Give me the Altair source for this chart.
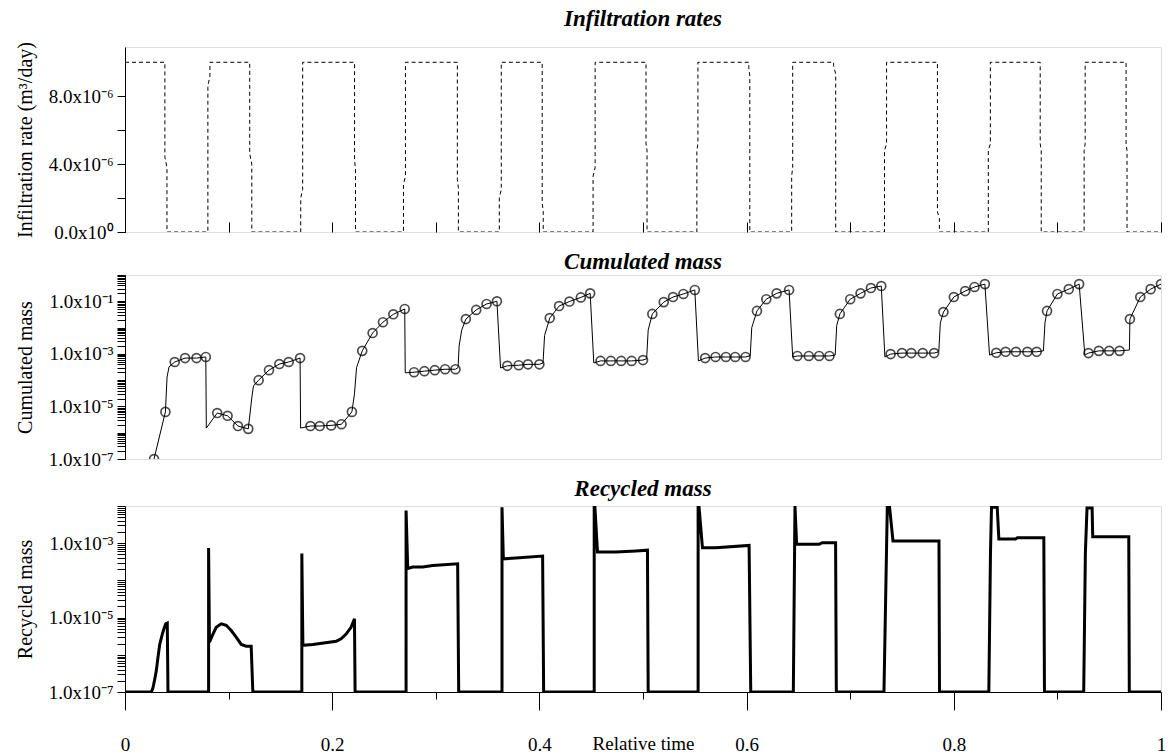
import altair as alt
import pandas as pd

SERIF = "Liberation Serif, Times New Roman, serif"

# ---------------- Infiltration rate: on/off ramps ----------------
INF_HIGH = 1.0e-5
ramp_start = [0.0385, 0.0800, 0.1204, 0.1696, 0.2216, 0.2688, 0.3208, 0.3613, 0.4027, 0.4518, 0.5029,
              0.5520, 0.6021, 0.6435, 0.6840, 0.7331, 0.7842, 0.8333, 0.8834, 0.9258, 0.9663]
ramp_end = [0.0405, 0.0820, 0.1224, 0.1715, 0.2225, 0.2707, 0.3218, 0.3632, 0.4037, 0.4538, 0.5039,
            0.5530, 0.6031, 0.6445, 0.6860, 0.7351, 0.7861, 0.8353, 0.8844, 0.9268, 0.9672]
kink_a = [4.4e-6, 8.6e-6, 4.6e-6, 2.0e-6, 4.2e-6, 2.8e-6, 3.1e-6, 2.0e-6, 1.7e-6, 3.3e-6, 5.2e-6,
          4.8e-6, 9.7e-6, 3.3e-6, 9.8e-6, 4.8e-6, 1.2e-6, 4.8e-6, 5.2e-6, 4.8e-6, 5.2e-6]
kink_b = [3.8e-6, 9.2e-6, 4.0e-6, 2.5e-6, 3.7e-6, 3.3e-6, 2.6e-6, 2.5e-6, 1.2e-6, 3.8e-6, 4.8e-6,
          5.2e-6, 9.2e-6, 3.8e-6, 9.3e-6, 5.2e-6, 0.8e-6, 5.2e-6, 4.8e-6, 5.2e-6, 4.8e-6]

inf_t, inf_v = [0.0], [INF_HIGH]
level = INF_HIGH
for t0, t1, ka, kb in zip(ramp_start, ramp_end, kink_a, kink_b):
    nxt = 0.0 if level > 0 else INF_HIGH
    inf_t += [t0, t0, t1, t1]
    inf_v += [level, ka, kb, nxt]
    level = nxt
inf_t.append(1.0)
inf_v.append(level)
inf_df = pd.DataFrame({"t": inf_t, "v": inf_v, "i": range(len(inf_t))})

# ---------------- Cumulated mass (marker = 1 where a symbol is drawn) ----------------
cum_t = [0.028, 0.039, 0.0406, 0.0425, 0.048, 0.058, 0.069, 0.078, 0.0785, 0.089, 0.099, 0.109, 0.119,
         0.1225, 0.124, 0.129, 0.139, 0.149, 0.158, 0.169, 0.1695, 0.179, 0.188, 0.199, 0.209, 0.219,
         0.2215, 0.2235, 0.229, 0.239, 0.249, 0.259, 0.270, 0.2705, 0.279, 0.289, 0.299, 0.309, 0.319,
         0.3215, 0.3225, 0.325, 0.329, 0.339, 0.349, 0.359, 0.3625, 0.369, 0.380, 0.389, 0.400,
         0.4035, 0.405, 0.410, 0.419, 0.429, 0.440, 0.449, 0.4525, 0.459, 0.469, 0.479, 0.489, 0.500,
         0.5035, 0.505, 0.509, 0.520, 0.529, 0.539, 0.550, 0.5535, 0.560, 0.570, 0.580, 0.589, 0.599,
         0.6035, 0.605, 0.610, 0.619, 0.629, 0.641, 0.6445, 0.649, 0.660, 0.670, 0.680,
         0.6855, 0.687, 0.690, 0.700, 0.710, 0.720, 0.730, 0.7335, 0.739, 0.750, 0.759, 0.770, 0.781,
         0.7855, 0.787, 0.790, 0.800, 0.811, 0.820, 0.830, 0.8345, 0.841, 0.850, 0.860, 0.871, 0.880,
         0.8865, 0.888, 0.890, 0.900, 0.911, 0.921, 0.9265, 0.930, 0.940, 0.950, 0.960,
         0.9695, 0.970, 0.980, 0.990, 1.000]
cum_v = [1.0e-7, 6.2e-6, 1.3e-4, 3.2e-4, 4.9e-4, 6.9e-4, 6.9e-4, 7.6e-4, 1.5e-6, 5.6e-6, 4.4e-6, 1.8e-6, 1.4e-6,
         2.3e-5, 6.0e-5, 1.0e-4, 2.4e-4, 4.1e-4, 4.9e-4, 6.9e-4, 1.5e-6, 1.8e-6, 1.8e-6, 1.9e-6, 2.1e-6, 6.2e-6,
         3.0e-5, 3.0e-4, 1.3e-3, 6.2e-3, 1.6e-2, 3.2e-2, 5.1e-2, 1.9e-4, 2.0e-4, 2.2e-4, 2.4e-4, 2.6e-4, 2.6e-4,
         3.0e-4, 2.0e-3, 8.0e-3, 2.1e-2, 4.7e-2, 7.9e-2, 1.0e-1, 2.9e-4, 3.5e-4, 3.7e-4, 4.0e-4, 4.0e-4,
         4.5e-4, 5.0e-3, 2.3e-2, 6.6e-2, 9.8e-2, 1.4e-1, 2.0e-1, 4.5e-4, 5.4e-4, 5.4e-4, 5.4e-4, 5.4e-4, 5.8e-4,
         6.5e-4, 8.0e-3, 3.3e-2, 9.3e-2, 1.45e-1, 1.9e-1, 2.7e-1, 5.4e-4, 6.9e-4, 7.6e-4, 7.6e-4, 7.6e-4, 7.6e-4,
         8.5e-4, 1.0e-2, 4.3e-2, 1.2e-1, 2.0e-1, 2.7e-1, 7.6e-4, 8.3e-4, 8.3e-4, 8.3e-4, 8.3e-4,
         9.0e-4, 1.2e-2, 3.3e-2, 1.2e-1, 2.0e-1, 3.2e-1, 3.8e-1, 7.6e-4, 9.8e-4, 1.07e-3, 1.07e-3, 1.07e-3, 1.07e-3,
         1.2e-3, 1.5e-2, 3.9e-2, 1.45e-1, 2.45e-1, 3.5e-1, 4.5e-1, 9.0e-4, 1.1e-3, 1.2e-3, 1.2e-3, 1.2e-3, 1.2e-3,
         1.3e-3, 1.5e-2, 4.3e-2, 1.9e-1, 2.9e-1, 4.5e-1, 9.0e-4, 1.07e-3, 1.3e-3, 1.3e-3, 1.3e-3,
         1.4e-3, 2.1e-2, 1.45e-1, 2.9e-1, 4.5e-1]
cum_mark = [1, 1, 0, 0, 1, 1, 1, 1, 0, 1, 1, 1, 1,
            0, 0, 1, 1, 1, 1, 1, 0, 1, 1, 1, 1, 1,
            0, 0, 1, 1, 1, 1, 1, 0, 1, 1, 1, 1, 1,
            0, 0, 0, 1, 1, 1, 1, 0, 1, 1, 1, 1,
            0, 0, 1, 1, 1, 1, 1, 0, 1, 1, 1, 1, 1,
            0, 0, 1, 1, 1, 1, 1, 0, 1, 1, 1, 1, 1,
            0, 0, 1, 1, 1, 1, 0, 1, 1, 1, 1,
            0, 0, 1, 1, 1, 1, 1, 0, 1, 1, 1, 1, 1,
            0, 0, 1, 1, 1, 1, 1, 0, 1, 1, 1, 1, 1,
            0, 0, 1, 1, 1, 1, 0, 1, 1, 1, 1,
            0, 1, 1, 1, 1]
cum_df = pd.DataFrame({"t": cum_t, "v": cum_v, "m": cum_mark, "i": range(len(cum_t))})

# ---------------- Recycled mass ----------------
rec_t = [0.0, 0.0254, 0.027, 0.0287, 0.0302, 0.0318, 0.0335, 0.036, 0.0376, 0.0393, 0.0408, 0.0415,
         0.0807, 0.0807, 0.0815, 0.0849, 0.088, 0.0929, 0.0977, 0.1025, 0.1073, 0.1122, 0.117, 0.1218, 0.1234,
         0.1707, 0.1707, 0.1717, 0.1813, 0.2038, 0.2086, 0.2134, 0.2182, 0.2215, 0.2221,
         0.2713, 0.2713, 0.2729, 0.2777, 0.2874, 0.297, 0.3211, 0.3221,
         0.3639, 0.3639, 0.3652, 0.3773, 0.4031, 0.4041,
         0.4529, 0.4529, 0.4535, 0.4561, 0.4738, 0.4931, 0.5043, 0.505,
         0.5532, 0.5532, 0.554, 0.5574, 0.5702, 0.6024, 0.604,
         0.6451, 0.6467, 0.6483, 0.6699, 0.6731, 0.6859, 0.6866,
         0.7326, 0.7358, 0.738, 0.7413, 0.7857, 0.7862,
         0.8338, 0.8354, 0.8364, 0.8419, 0.8435, 0.8595, 0.8615, 0.8869, 0.8875,
         0.9254, 0.927, 0.9286, 0.9335, 0.9341, 0.9689, 0.9694, 1.0]
rec_v = [1e-7, 1e-7, 1.3e-7, 2.2e-7, 3.7e-7, 8.4e-7, 1.9e-6, 3.6e-6, 5.0e-6, 6.8e-6, 7.1e-6, 1e-7,
         1e-7, 7.4e-4, 2.2e-6, 3.6e-6, 5.5e-6, 6.8e-6, 6.2e-6, 4.5e-6, 3.0e-6, 1.9e-6, 1.7e-6, 1.7e-6, 1e-7,
         1e-7, 5.3e-4, 1.8e-6, 1.9e-6, 2.3e-6, 2.7e-6, 3.6e-6, 5.5e-6, 9.3e-6, 1e-7,
         1e-7, 7.6e-3, 2.1e-4, 2.3e-4, 2.3e-4, 2.5e-4, 2.8e-4, 1e-7,
         1e-7, 9.3e-3, 3.8e-4, 4.0e-4, 4.5e-4, 1e-7,
         1e-7, 1e-2, 1e-2, 5.8e-4, 5.8e-4, 6.2e-4, 6.5e-4, 1e-7,
         1e-7, 1e-2, 1e-2, 7.5e-4, 7.5e-4, 8.7e-4, 1e-7,
         1e-7, 1e-2, 9.3e-4, 9.3e-4, 1.03e-3, 1.03e-3, 1e-7,
         1e-7, 9.3e-3, 9.3e-3, 1.15e-3, 1.15e-3, 1e-7,
         1e-7, 5.5e-4, 9.3e-3, 9.3e-3, 1.3e-3, 1.3e-3, 1.4e-3, 1.4e-3, 1e-7,
         1e-7, 5.5e-4, 8.9e-3, 8.9e-3, 1.5e-3, 1.5e-3, 1e-7, 1e-7]
rec_df = pd.DataFrame({"t": rec_t, "v": rec_v, "i": range(len(rec_t))})

# ---------------- Axis ticks and labels ----------------
x_ticks = [0.0, 0.1, 0.2, 0.3, 0.4, 0.5, 0.6, 0.7, 0.8, 0.9, 1.0]
inf_ticks = [0.0, 2e-6, 4e-6, 6e-6, 8e-6]
inf_labels = {0.0: "0.0x10\u2070", 4e-6: "4.0x10\u207b\u2076", 8e-6: "8.0x10\u207b\u2076"}
cum_decades = [-7, -6, -5, -4, -3, -2, -1]
cum_labels = {-7: "1.0x10\u207b\u2077", -5: "1.0x10\u207b\u2075", -3: "1.0x10\u207b\u00b3", -1: "1.0x10\u207b\u00b9"}
rec_decades = [-7, -6, -5, -4, -3]
rec_labels = {-7: "1.0x10\u207b\u2077", -5: "1.0x10\u207b\u2075", -3: "1.0x10\u207b\u00b3"}


def log_ticks(decades, top):
    vals = [k * 10.0 ** d for d in decades for k in range(1, 10)]
    return vals + [top]


def lin_label_expr(labels):
    parts = [f"abs(datum.value - {v!r}) < 1e-9 ? '{s}'" for v, s in labels.items()]
    return " : ".join(parts) + " : ''"


def log_label_expr(labels):
    parts = [f"abs(log(datum.value) / LN10 - ({d})) < 0.01 ? '{s}'" for d, s in labels.items()]
    return " : ".join(parts) + " : ''"


W = 1036
x_scale = alt.Scale(domain=[0, 1], nice=False, zero=False)

y_axis_common = dict(
    labelFont=SERIF, labelFontSize=19, labelColor="black", labelPadding=4,
    titleFont=SERIF, titleFontSize=20, titleFontWeight="normal", titleColor="black", titlePadding=13,
    tickColor="black", domainColor="black", tickSize=8, grid=False,
    labelOverlap=False, labelFlush=False,
)


def panel_title(text, offset):
    return alt.TitleParams(text, font=SERIF, fontSize=23, fontStyle="italic", fontWeight="bold",
                           color="black", anchor="middle", offset=offset)


# ---------------- Panel 1: infiltration rates ----------------
top = alt.Chart(inf_df).mark_line(color="black", strokeWidth=1, strokeDash=[4, 3], clip=True).encode(
    x=alt.X("t:Q", scale=x_scale,
            axis=alt.Axis(values=x_ticks, labels=False, title=None, tickSize=10, offset=-10,
                          domain=False, tickColor="black", grid=False)),
    y=alt.Y("v:Q", scale=alt.Scale(domain=[0, 1.09e-5], nice=False, zero=False),
            axis=alt.Axis(values=inf_ticks, labelExpr=lin_label_expr(inf_labels),
                          title="Infiltration rate (m\u00b3/day)", **y_axis_common)),
    order="i:Q",
).properties(width=W, height=185, title=panel_title("Infiltration rates", 11))

# ---------------- Panel 2: cumulated mass ----------------
cum_y = alt.Y("v:Q", scale=alt.Scale(type="log", domain=[1e-7, 1.0], nice=False),
              axis=alt.Axis(values=log_ticks(cum_decades, 1.0), labelExpr=log_label_expr(cum_labels),
                            title="Cumulated mass", **y_axis_common))
cum_line = alt.Chart(cum_df).mark_line(color="black", strokeWidth=1, clip=True).encode(
    x=alt.X("t:Q", scale=x_scale, axis=None), y=cum_y, order="i:Q")
cum_pts = alt.Chart(cum_df).transform_filter("datum.m == 1").mark_point(
    shape="circle", filled=False, size=80, color="black", strokeWidth=1.7, clip=True
).encode(x=alt.X("t:Q", scale=x_scale, axis=None), y=cum_y)
mid = alt.layer(cum_line, cum_pts).properties(width=W, height=184, title=panel_title("Cumulated mass", -8))

# ---------------- Panel 3: recycled mass ----------------
major_test = "abs(datum.value * 5 - round(datum.value * 5)) < 0.001"
bot = alt.Chart(rec_df).mark_line(color="black", strokeWidth=3, clip=True).encode(
    x=alt.X("t:Q", scale=x_scale,
            axis=alt.Axis(values=x_ticks,
                          tickSize={"condition": {"test": major_test, "value": 18}, "value": 7},
                          labelExpr=f"{major_test} ? format(datum.value, '~g') : ''",
                          labelPadding=25, labelFont=SERIF, labelFontSize=19, labelColor="black",
                          labelFlush=False, labelOverlap=False,
                          title="Relative time", titleFont=SERIF, titleFontSize=19,
                          titleFontWeight="normal", titleColor="black", titleY=57,
                          titleBaseline="alphabetic",
                          tickColor="black", domainColor="black", grid=False)),
    y=alt.Y("v:Q", scale=alt.Scale(type="log", domain=[1e-7, 1e-2], nice=False),
            axis=alt.Axis(values=log_ticks(rec_decades, 1e-2), labelExpr=log_label_expr(rec_labels),
                          title="Recycled mass", **y_axis_common)),
    order="i:Q",
).properties(width=W, height=186, title=panel_title("Recycled mass", -4))

chart = alt.vconcat(top, mid, bot, spacing=7).properties(
    padding={"left": 14, "top": 7, "right": 5, "bottom": 0}
).configure_view(stroke="black", strokeWidth=1).configure(background="white")

chart.save("out.html", embed_options={"renderer": "svg", "actions": False})
